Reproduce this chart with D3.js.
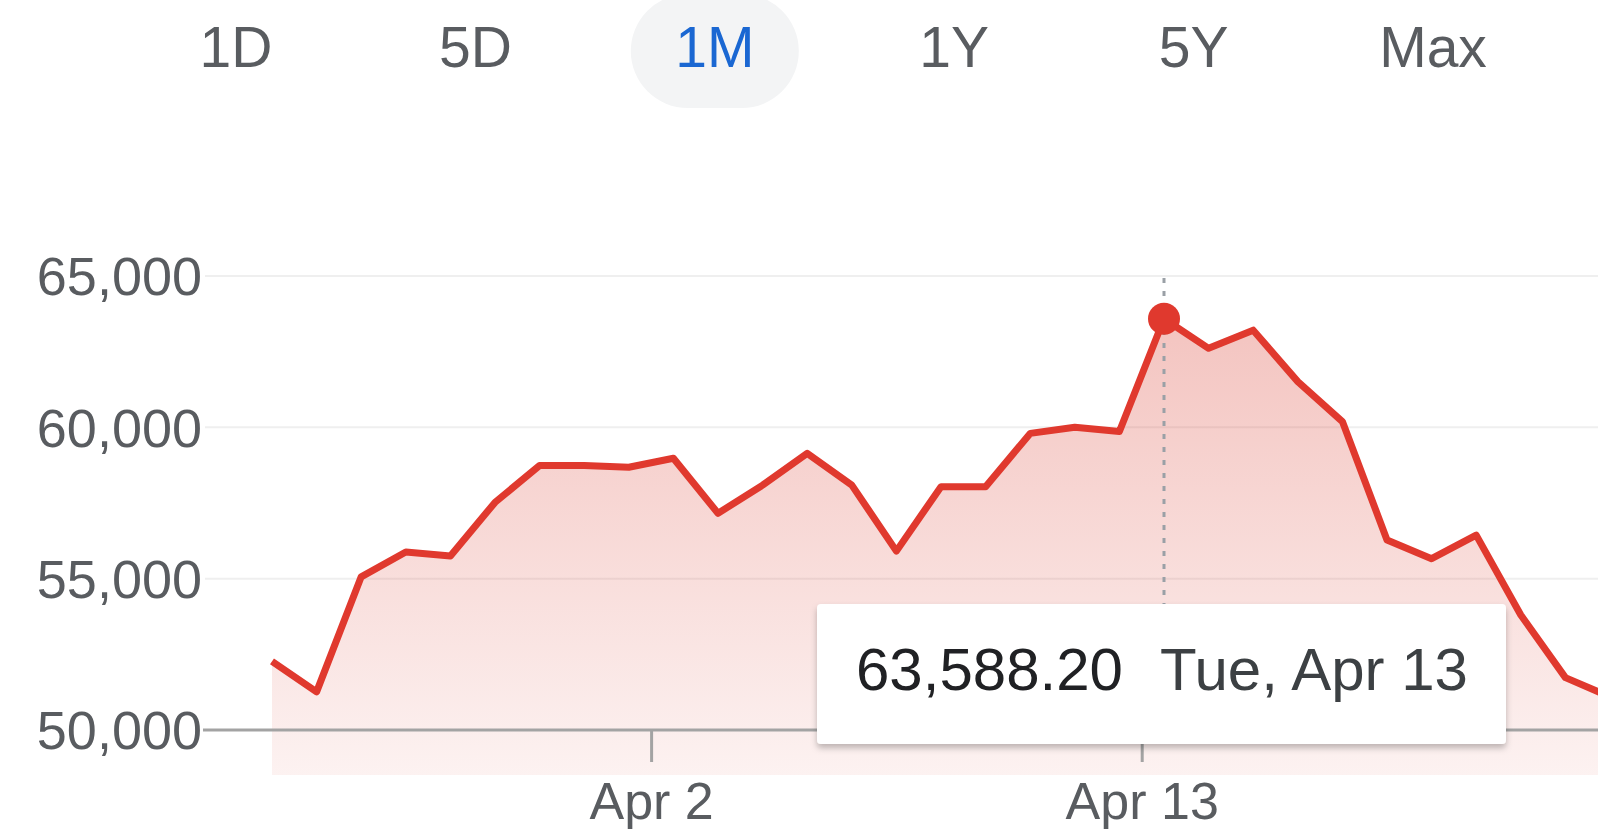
<!DOCTYPE html>
<html>
<head>
<meta charset="utf-8">
<script src="https://cdn.jsdelivr.net/npm/d3@7"></script>
<style>
  html, body { margin: 0; padding: 0; background: #fff; overflow: hidden; }
  svg { display: block; font-family: "Liberation Sans", Arial, Helvetica, sans-serif; }
</style>
</head>
<body>
<script>
var ranges = ["1D", "5D", "1M", "1Y", "5Y", "Max"];
var activeRange = "1M";

var dates = [
    "2021-03-24", "2021-03-25", "2021-03-26", "2021-03-27", "2021-03-28", "2021-03-29",
    "2021-03-30", "2021-03-31", "2021-04-01", "2021-04-02", "2021-04-03", "2021-04-04",
    "2021-04-05", "2021-04-06", "2021-04-07", "2021-04-08", "2021-04-09", "2021-04-10",
    "2021-04-11", "2021-04-12", "2021-04-13", "2021-04-14", "2021-04-15", "2021-04-16",
    "2021-04-17", "2021-04-18", "2021-04-19", "2021-04-20", "2021-04-21", "2021-04-22",
    "2021-04-23"
];
var prices = [
    52270, 51260, 55060, 55880, 55750, 57520,
    58740, 58740, 58680, 58980, 57160, 58090,
    59140, 58090, 55910, 58040, 58040, 59800,
    60000, 59860, 63588.20, 62610, 63210, 61510,
    60190, 56280, 55660, 56440, 53800, 51730,
    51100
];
var yTicks = [50000, 55000, 60000, 65000];
var xTicks = ["2021-04-02", "2021-04-13"];
var hoverIndex = 20;

window.onload = function(){
    var w = 1598, h = 829;

    var parseDay = d3.timeParse("%Y-%m-%d");
    // points sit at midday, ticks at midnight
    var data = dates.map(function(d, i){
        return { date: d3.timeHour.offset(parseDay(d), 12), value: prices[i] };
    });

    var svg = d3.select("body")
        .append("svg")
        .attr("width", w)
        .attr("height", h);

    var defs = svg.append("defs");

    var grad = defs.append("linearGradient")
        .attr("id", "areaFill")
        .attr("gradientUnits", "userSpaceOnUse")
        .attr("x1", 0).attr("x2", 0)
        .attr("y1", 276).attr("y2", 775);
    grad.append("stop").attr("offset", "0%").attr("stop-color", "#db4437").attr("stop-opacity", 0.34);
    grad.append("stop").attr("offset", "100%").attr("stop-color", "#db4437").attr("stop-opacity", 0.07);

    var shadow = defs.append("filter")
        .attr("id", "tipShadow")
        .attr("x", "-10%").attr("y", "-20%")
        .attr("width", "120%").attr("height", "150%");
    shadow.append("feDropShadow")
        .attr("dx", 0).attr("dy", 4)
        .attr("stdDeviation", 3)
        .attr("flood-color", "#000")
        .attr("flood-opacity", 0.25);

    // range buttons
    var bx = d3.scalePoint()
        .domain(ranges)
        .range([236, 1433]);

    svg.append("rect")
        .attr("x", bx(activeRange) - 84)
        .attr("y", -6)
        .attr("width", 168)
        .attr("height", 114)
        .attr("rx", 57)
        .style("fill", "#f3f4f5");

    svg.selectAll(".range")
        .data(ranges)
        .enter()
        .append("text")
        .attr("class", "range")
        .attr("x", function(d){ return bx(d); })
        .attr("y", 67)
        .attr("text-anchor", "middle")
        .style("font-size", "57px")
        .style("fill", function(d){
            return d == activeRange ? "#1a67d2" : "#595c60";
        })
        .text(function(d){ return d; });

    var x = d3.scaleTime()
        .domain([data[0].date, data[data.length - 1].date])
        .range([272, 272 + 30 * 44.6]);

    var y = d3.scaleLinear()
        .domain([50000, 65000])
        .range([730, 276]);

    // grid lines
    svg.selectAll(".grid")
        .data(yTicks.slice(1))
        .enter()
        .append("line")
        .attr("class", "grid")
        .attr("x1", 205)
        .attr("x2", w)
        .attr("y1", function(d){ return y(d); })
        .attr("y2", function(d){ return y(d); })
        .style("stroke", "#efefef")
        .style("stroke-width", 2);

    // y labels
    svg.selectAll(".ylabel")
        .data(yTicks)
        .enter()
        .append("text")
        .attr("class", "ylabel")
        .attr("x", 202)
        .attr("y", function(d){ return y(d); })
        .attr("dy", "0.36em")
        .attr("text-anchor", "end")
        .style("font-size", "54px")
        .style("fill", "#595c60")
        .text(function(d){ return d3.format(",")(d); });

    var area = d3.area()
        .x(function(d){ return x(d.date); })
        .y0(775)
        .y1(function(d){ return y(d.value); });

    svg.append("path")
        .datum(data)
        .attr("d", area)
        .style("fill", "url(#areaFill)");

    // baseline axis
    svg.append("line")
        .attr("x1", 203)
        .attr("x2", w)
        .attr("y1", y(50000))
        .attr("y2", y(50000))
        .style("stroke", "#a3a3a3")
        .style("stroke-width", 3);

    var xAxis = d3.axisBottom(x)
        .tickValues(xTicks.map(parseDay))
        .tickSize(32)
        .tickPadding(20)
        .tickFormat(d3.timeFormat("%b %-d"));

    var gx = svg.append("g")
        .attr("transform", "translate(0," + y(50000) + ")")
        .call(xAxis);
    gx.select(".domain").remove();
    gx.selectAll(".tick line")
        .style("stroke", "#a3a3a3")
        .style("stroke-width", 3);
    gx.selectAll(".tick text")
        .style("font-family", "'Liberation Sans', Arial, sans-serif")
        .style("font-size", "52px")
        .style("fill", "#595c60");

    var line = d3.line()
        .x(function(d){ return x(d.date); })
        .y(function(d){ return y(d.value); });

    svg.append("path")
        .datum(data)
        .attr("d", line)
        .style("fill", "none")
        .style("stroke", "#e0392e")
        .style("stroke-width", 7)
        .style("stroke-linejoin", "round");

    // hover marker
    var hp = data[hoverIndex];

    svg.append("line")
        .attr("x1", x(hp.date))
        .attr("x2", x(hp.date))
        .attr("y1", 278)
        .attr("y2", 604)
        .style("stroke", "#9aa0a6")
        .style("stroke-width", 3)
        .style("stroke-dasharray", "5,8");

    svg.append("circle")
        .attr("cx", x(hp.date))
        .attr("cy", y(hp.value))
        .attr("r", 16)
        .style("fill", "#e0392e");

    var tip = svg.append("g");

    tip.append("rect")
        .attr("x", 817)
        .attr("y", 604)
        .attr("width", 689)
        .attr("height", 140)
        .attr("rx", 4)
        .style("fill", "#fff")
        .attr("filter", "url(#tipShadow)");

    tip.append("text")
        .attr("x", 856)
        .attr("y", 690)
        .style("font-size", "60px")
        .style("fill", "#202124")
        .text(d3.format(",.2f")(hp.value));

    tip.append("text")
        .attr("x", 1160)
        .attr("y", 690)
        .style("font-size", "60px")
        .style("fill", "#3c4043")
        .text(d3.timeFormat("%a, %b %-d")(hp.date));
}
</script>
</body>
</html>
